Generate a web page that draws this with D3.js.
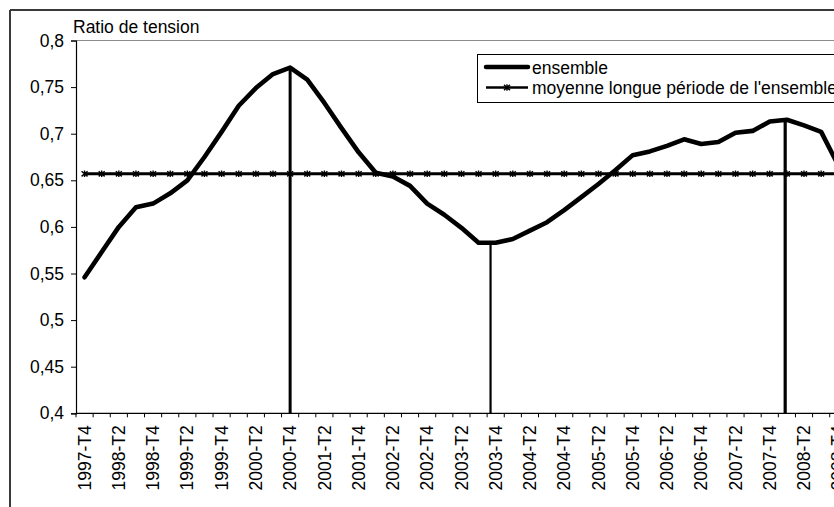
<!DOCTYPE html>
<html>
<head>
<meta charset="utf-8">
<script src="https://cdn.jsdelivr.net/npm/d3@7"></script>
<style>
  html, body { margin: 0; padding: 0; background: #fff; }
  svg { display: block; font-family: "Liberation Sans", Arial, sans-serif; }
</style>
</head>
<body>
<svg id="chart" width="834" height="507"></svg>
<script>
// ---- DATA ----
const categories = [
  "1997-T4",
  "1998-T1","1998-T2","1998-T3","1998-T4",
  "1999-T1","1999-T2","1999-T3","1999-T4",
  "2000-T1","2000-T2","2000-T3","2000-T4",
  "2001-T1","2001-T2","2001-T3","2001-T4",
  "2002-T1","2002-T2","2002-T3","2002-T4",
  "2003-T1","2003-T2","2003-T3","2003-T4",
  "2004-T1","2004-T2","2004-T3","2004-T4",
  "2005-T1","2005-T2","2005-T3","2005-T4",
  "2006-T1","2006-T2","2006-T3","2006-T4",
  "2007-T1","2007-T2","2007-T3","2007-T4",
  "2008-T1","2008-T2","2008-T3","2008-T4",
  "2009-T1","2009-T2","2009-T3","2009-T4"
];
const ensemble = [
  0.546, 0.573, 0.600, 0.621, 0.625, 0.636, 0.650, 0.675, 0.702, 0.730,
  0.749, 0.764, 0.771, 0.758, 0.733, 0.706, 0.680, 0.658, 0.654, 0.644,
  0.625, 0.613, 0.599, 0.583, 0.583, 0.587, 0.596, 0.605, 0.618, 0.632,
  0.646, 0.661, 0.677, 0.681, 0.687, 0.694, 0.689, 0.691, 0.701, 0.703,
  0.713, 0.715, 0.709, 0.702, 0.666
];
const moyenneValue = 0.657;
const moyenne = ensemble.map(() => moyenneValue);
// drop lines at turning points: position in category index, value reached
const dropPositions = [12, 23.7, 40.9];
const dropValues = [0.771, 0.583, 0.715];
const yTicks = [0.4, 0.45, 0.5, 0.55, 0.6, 0.65, 0.7, 0.75, 0.8];
const seriesNames = ["ensemble", "moyenne longue période de l'ensemble"];
const yTitle = "Ratio de tension";

// ---- LAYOUT ----
const svg = d3.select("#chart");
const plotLeft = 76, plotTop = 40.5, plotBottom = 413.3;
const step = 17.13;
const plotRight = plotLeft + categories.length * step;
const fs = 17.5;

svg.append("rect").attr("width", 834).attr("height", 507).attr("fill", "#fff");

const x = d3.scaleBand().domain(categories).range([plotLeft, plotRight]).padding(0);
const y = d3.scaleLinear().domain([0.4, 0.8]).range([plotBottom, plotTop]);
const xc = i => x(categories[0]) + (i + 0.5) * x.bandwidth();

// outer frame
svg.append("line").attr("x1", 10).attr("x2", 900).attr("y1", 10).attr("y2", 10)
  .attr("stroke", "#3a3a3a").attr("stroke-width", 2);
svg.append("line").attr("x1", 10).attr("x2", 10).attr("y1", 10).attr("y2", 600)
  .attr("stroke", "#3a3a3a").attr("stroke-width", 2);

// plot area top border
svg.append("line").attr("x1", plotLeft).attr("x2", plotRight).attr("y1", plotTop).attr("y2", plotTop)
  .attr("stroke", "#8c8c8c").attr("stroke-width", 1);

// y axis
const yAxis = d3.axisLeft(y).tickValues(yTicks).tickSize(5).tickPadding(7)
  .tickFormat(d => String(+d.toFixed(2)).replace(".", ","));
const gy = svg.append("g").attr("transform", `translate(${plotLeft},0)`).call(yAxis);
gy.select(".domain").attr("stroke", "#000").attr("stroke-width", 1.2);
gy.selectAll(".tick line").attr("stroke", "#000");
gy.selectAll(".tick text").attr("font-size", fs).attr("fill", "#000")
  .attr("font-family", "'Liberation Sans', Arial, sans-serif");

// x axis: ticks at band boundaries
const gx = svg.append("g");
gx.append("line").attr("x1", plotLeft).attr("x2", plotRight)
  .attr("y1", plotBottom).attr("y2", plotBottom).attr("stroke", "#000").attr("stroke-width", 1.2);
gx.selectAll("line.tk").data(d3.range(categories.length + 1)).join("line")
  .attr("class", "tk")
  .attr("x1", i => plotLeft + i * x.bandwidth()).attr("x2", i => plotLeft + i * x.bandwidth())
  .attr("y1", plotBottom).attr("y2", plotBottom + 4).attr("stroke", "#000");
gx.selectAll("text").data(categories.filter((c, i) => i % 2 === 0)).join("text")
  .attr("transform", c => `translate(${x(c) + x.bandwidth() / 2},${plotBottom + 12}) rotate(-90)`)
  .attr("text-anchor", "end").attr("dy", "0.35em")
  .attr("font-size", fs).attr("fill", "#000")
  .text(c => c);

// y title
svg.append("text").attr("x", 73).attr("y", 32.5).attr("font-size", fs).attr("fill", "#000").text(yTitle);

// mean line with asterisk markers
const lineGen = d3.line().x((d, i) => xc(i)).y(d => y(d));
svg.append("path").datum(moyenne).attr("d", lineGen)
  .attr("fill", "none").attr("stroke", "#000").attr("stroke-width", 3);
const asterisk = "M-3,-2.6L3,2.6M-3,2.6L3,-2.6M0,-3.3L0,3.3";
svg.selectAll("path.mk").data(moyenne).join("path").attr("class", "mk")
  .attr("transform", (d, i) => `translate(${xc(i)},${y(d)})`)
  .attr("d", asterisk).attr("stroke", "#000").attr("stroke-width", 1.4).attr("fill", "none");

// drop lines
const dropWidths = [3, 2.2, 3.2];
svg.selectAll("line.drop").data(dropPositions).join("line").attr("class", "drop")
  .attr("x1", p => xc(p)).attr("x2", p => xc(p))
  .attr("y1", plotBottom).attr("y2", (p, i) => y(dropValues[i]))
  .attr("stroke", "#000").attr("stroke-width", (p, i) => dropWidths[i]);

// main curve
svg.append("path").datum(ensemble).attr("d", lineGen)
  .attr("fill", "none").attr("stroke", "#000").attr("stroke-width", 4.6)
  .attr("stroke-linejoin", "round").attr("stroke-linecap", "round");

// legend
const lg = svg.append("g");
lg.append("rect").attr("x", 477.5).attr("y", 54.5).attr("width", 420).attr("height", 48)
  .attr("fill", "#fff").attr("stroke", "#000").attr("stroke-width", 1);
lg.append("line").attr("x1", 486).attr("x2", 528).attr("y1", 67).attr("y2", 67)
  .attr("stroke", "#000").attr("stroke-width", 4.5).attr("stroke-linecap", "round");
lg.append("text").attr("x", 532).attr("y", 73.5).attr("font-size", fs).attr("fill", "#000").text(seriesNames[0]);
lg.append("line").attr("x1", 486).attr("x2", 528).attr("y1", 87.5).attr("y2", 87.5)
  .attr("stroke", "#000").attr("stroke-width", 2.5);
lg.append("path").attr("transform", "translate(507,87.5)").attr("d", asterisk)
  .attr("stroke", "#000").attr("stroke-width", 1.4).attr("fill", "none");
lg.append("text").attr("x", 532).attr("y", 93.5).attr("font-size", fs).attr("fill", "#000").text(seriesNames[1]);
</script>
</body>
</html>
